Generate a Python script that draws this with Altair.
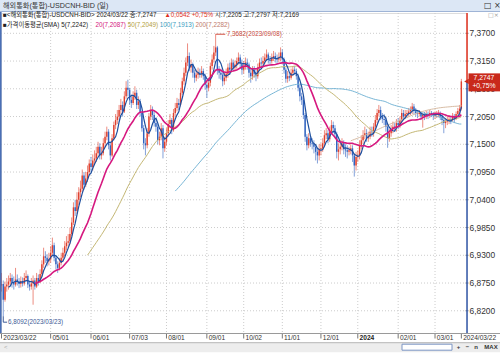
import altair as alt
import pandas as pd

# ---------------- data ----------------
tick_idx = [0, 28, 51, 73, 94, 117, 138, 160, 182, 203, 226, 247, 262]
tick_labels = ["2023/03/22", "05/01", "06/01", "07/03", "08/01", "09/01", "10/02",
               "11/01", "12/01", "2024", "02/01", "03/01", "2024/03/22"]
y_ticks = [7.37, 7.315, 7.26, 7.205, 7.15, 7.095, 7.04, 6.985, 6.93, 6.875, 6.82]

# daily closes, month by month (trading days)
c_23_03 = [6.873, 6.842, 6.868, 6.872, 6.878, 6.885, 6.875, 6.872]
c_23_04 = [6.882, 6.878, 6.873, 6.879, 6.874, 6.885, 6.889, 6.872, 6.868, 6.874,
           6.880, 6.868, 6.885, 6.878, 6.893, 6.912, 6.928, 6.925, 6.918, 6.922]
c_23_05 = [6.935, 6.950, 6.925, 6.912, 6.905, 6.915, 6.925, 6.935, 6.948, 6.955, 6.958, 6.972,
           6.995, 7.025, 7.018, 7.040, 7.055, 7.062, 7.088, 7.070, 7.082, 7.095, 7.112]
c_23_06 = [7.105, 7.118, 7.122, 7.132, 7.145, 7.128, 7.132, 7.152, 7.165, 7.175, 7.148,
           7.128, 7.162, 7.188, 7.198, 7.205, 7.218, 7.228, 7.215, 7.245, 7.262, 7.258]
c_23_07 = [7.238, 7.232, 7.245, 7.252, 7.228, 7.235, 7.212, 7.182, 7.152, 7.148, 7.172,
           7.205, 7.218, 7.208, 7.192, 7.185, 7.158, 7.165, 7.182, 7.142, 7.155]
c_23_08 = [7.172, 7.190, 7.198, 7.178, 7.212, 7.222, 7.232, 7.228, 7.252, 7.275, 7.292, 7.312,
           7.325, 7.302, 7.308, 7.292, 7.282, 7.288, 7.292, 7.290, 7.295, 7.285, 7.268]
c_23_09 = [7.262, 7.272, 7.305, 7.318, 7.332, 7.342, 7.298, 7.292, 7.288, 7.275, 7.282,
           7.290, 7.302, 7.298, 7.312, 7.302, 7.308, 7.315, 7.322, 7.310, 7.298]
c_23_10 = [7.305, 7.312, 7.308, 7.292, 7.285, 7.298, 7.290, 7.285, 7.302, 7.312, 7.310,
           7.315, 7.322, 7.328, 7.318, 7.315, 7.322, 7.325, 7.320, 7.318, 7.322, 7.332]
c_23_11 = [7.318, 7.298, 7.280, 7.285, 7.282, 7.292, 7.298, 7.295, 7.285, 7.262, 7.245,
           7.238, 7.208, 7.165, 7.148, 7.162, 7.152, 7.150, 7.145, 7.135, 7.128, 7.140]
c_23_12 = [7.142, 7.152, 7.168, 7.172, 7.160, 7.175, 7.188, 7.182, 7.170, 7.135, 7.140,
           7.145, 7.152, 7.140, 7.138, 7.135, 7.138, 7.142, 7.128, 7.108, 7.125]
c_24_01 = [7.128, 7.148, 7.158, 7.168, 7.172, 7.162, 7.165, 7.175, 7.172, 7.185, 7.198, 7.212,
           7.218, 7.205, 7.200, 7.198, 7.185, 7.162, 7.172, 7.180, 7.185, 7.182, 7.192]
c_24_02 = [7.188, 7.198, 7.212, 7.205, 7.210, 7.212, 7.215, 7.218, 7.225, 7.218, 7.212,
           7.210, 7.212, 7.205, 7.208, 7.206, 7.210, 7.208, 7.212, 7.210, 7.206]
c_24_03 = [7.208, 7.210, 7.212, 7.205, 7.198, 7.192, 7.195, 7.198, 7.200, 7.198, 7.205,
           7.200, 7.210, 7.216, 7.2205, 7.2747]

h_23_03 = [6.895, 6.880, 6.878, 6.885, 6.890, 6.895, 6.892, 6.888]
h_23_04 = [6.905, 6.892, 6.885, 6.888, 6.886, 6.895, 6.900, 6.892, 6.880, 6.885,
           6.890, 6.885, 6.895, 6.892, 6.902, 6.920, 6.945, 6.938, 6.932, 6.935]
h_23_05 = [6.948, 6.965, 6.955, 6.930, 6.918, 6.925, 6.935, 6.945, 6.958, 6.968, 6.972, 6.985,
           7.005, 7.035, 7.040, 7.055, 7.065, 7.078, 7.100, 7.095, 7.095, 7.108, 7.120]
h_23_06 = [7.125, 7.130, 7.138, 7.145, 7.155, 7.152, 7.145, 7.162, 7.175, 7.185, 7.180,
           7.155, 7.170, 7.195, 7.210, 7.218, 7.228, 7.240, 7.235, 7.255, 7.275, 7.278]
h_23_07 = [7.262, 7.248, 7.255, 7.265, 7.258, 7.245, 7.240, 7.215, 7.188, 7.162, 7.182,
           7.212, 7.228, 7.225, 7.215, 7.200, 7.190, 7.175, 7.192, 7.188, 7.165]
h_23_08 = [7.182, 7.198, 7.210, 7.202, 7.220, 7.232, 7.242, 7.240, 7.262, 7.282, 7.302, 7.322,
           7.350, 7.332, 7.318, 7.312, 7.298, 7.298, 7.302, 7.300, 7.305, 7.300, 7.290]
h_23_09 = [7.275, 7.282, 7.312, 7.328, 7.345, 7.3682, 7.345, 7.305, 7.300, 7.295, 7.292,
           7.300, 7.310, 7.312, 7.320, 7.318, 7.316, 7.322, 7.332, 7.328, 7.318]
h_23_10 = [7.315, 7.322, 7.320, 7.312, 7.298, 7.305, 7.305, 7.298, 7.310, 7.320, 7.322,
           7.325, 7.330, 7.338, 7.332, 7.325, 7.330, 7.335, 7.332, 7.328, 7.332, 7.342]
h_23_11 = [7.338, 7.322, 7.302, 7.295, 7.292, 7.300, 7.305, 7.305, 7.300, 7.290, 7.268,
           7.252, 7.242, 7.212, 7.170, 7.172, 7.168, 7.162, 7.158, 7.150, 7.142, 7.150]
h_23_12 = [7.152, 7.162, 7.178, 7.182, 7.178, 7.185, 7.198, 7.195, 7.188, 7.175, 7.152,
           7.158, 7.162, 7.158, 7.150, 7.148, 7.145, 7.150, 7.148, 7.132, 7.135]
h_24_01 = [7.138, 7.158, 7.168, 7.178, 7.185, 7.180, 7.175, 7.185, 7.185, 7.192, 7.208, 7.220,
           7.228, 7.225, 7.212, 7.210, 7.205, 7.190, 7.180, 7.188, 7.195, 7.192, 7.200]
h_24_02 = [7.202, 7.205, 7.220, 7.218, 7.218, 7.218, 7.222, 7.225, 7.232, 7.230, 7.222,
           7.218, 7.218, 7.215, 7.212, 7.214, 7.216, 7.215, 7.218, 7.216, 7.214]
h_24_03 = [7.215, 7.216, 7.218, 7.215, 7.208, 7.202, 7.202, 7.205, 7.208, 7.206, 7.212,
           7.210, 7.215, 7.222, 7.228, 7.2797]

l_23_03 = [6.858, 6.8092, 6.838, 6.858, 6.862, 6.870, 6.866, 6.862]
l_23_04 = [6.868, 6.870, 6.865, 6.866, 6.868, 6.870, 6.878, 6.865, 6.860, 6.862,
           6.832, 6.862, 6.865, 6.870, 6.875, 6.888, 6.905, 6.915, 6.908, 6.910]
l_23_05 = [6.915, 6.928, 6.918, 6.902, 6.895, 6.900, 6.910, 6.918, 6.928, 6.940, 6.945, 6.952,
           6.968, 6.990, 7.008, 7.012, 7.030, 7.045, 7.055, 7.060, 7.065, 7.075, 7.088]
l_23_06 = [7.095, 7.098, 7.110, 7.115, 7.125, 7.120, 7.120, 7.128, 7.145, 7.158, 7.140,
           7.118, 7.125, 7.158, 7.180, 7.190, 7.198, 7.210, 7.205, 7.212, 7.240, 7.245]
l_23_07 = [7.228, 7.222, 7.228, 7.238, 7.220, 7.220, 7.205, 7.175, 7.140, 7.128, 7.142,
           7.165, 7.198, 7.198, 7.185, 7.175, 7.150, 7.148, 7.158, 7.122, 7.135]
l_23_08 = [7.148, 7.165, 7.182, 7.170, 7.175, 7.205, 7.215, 7.218, 7.225, 7.248, 7.268, 7.285,
           7.305, 7.295, 7.292, 7.282, 7.272, 7.275, 7.280, 7.282, 7.282, 7.278, 7.258]
l_23_09 = [7.242, 7.255, 7.265, 7.298, 7.312, 7.325, 7.288, 7.280, 7.278, 7.265, 7.268,
           7.275, 7.282, 7.288, 7.292, 7.295, 7.295, 7.300, 7.308, 7.302, 7.288]
l_23_10 = [7.290, 7.298, 7.298, 7.282, 7.272, 7.278, 7.282, 7.275, 7.280, 7.295, 7.302,
           7.305, 7.308, 7.315, 7.310, 7.308, 7.310, 7.315, 7.312, 7.310, 7.312, 7.315]
l_23_11 = [7.310, 7.290, 7.272, 7.272, 7.275, 7.278, 7.285, 7.288, 7.278, 7.255, 7.235,
           7.228, 7.200, 7.155, 7.138, 7.142, 7.145, 7.140, 7.132, 7.118, 7.112, 7.118]
l_23_12 = [7.128, 7.135, 7.145, 7.160, 7.152, 7.155, 7.170, 7.172, 7.162, 7.122, 7.118,
           7.130, 7.138, 7.130, 7.125, 7.122, 7.128, 7.130, 7.115, 7.086, 7.098]
l_24_01 = [7.115, 7.120, 7.140, 7.150, 7.160, 7.155, 7.155, 7.160, 7.165, 7.165, 7.180, 7.192,
           7.205, 7.198, 7.192, 7.188, 7.175, 7.143, 7.155, 7.165, 7.172, 7.175, 7.175]
l_24_02 = [7.180, 7.182, 7.192, 7.198, 7.200, 7.202, 7.205, 7.208, 7.210, 7.210, 7.205,
           7.202, 7.205, 7.198, 7.183, 7.198, 7.200, 7.200, 7.202, 7.204, 7.198]
l_24_03 = [7.200, 7.202, 7.204, 7.198, 7.188, 7.172, 7.182, 7.188, 7.190, 7.190, 7.195,
           7.192, 7.198, 7.205, 7.210, 7.2169]

closes = (c_23_03 + c_23_04 + c_23_05 + c_23_06 + c_23_07 + c_23_08 + c_23_09 +
          c_23_10 + c_23_11 + c_23_12 + c_24_01 + c_24_02 + c_24_03)
highs = (h_23_03 + h_23_04 + h_23_05 + h_23_06 + h_23_07 + h_23_08 + h_23_09 +
         h_23_10 + h_23_11 + h_23_12 + h_24_01 + h_24_02 + h_24_03)
lows = (l_23_03 + l_23_04 + l_23_05 + l_23_06 + l_23_07 + l_23_08 + l_23_09 +
        l_23_10 + l_23_11 + l_23_12 + l_24_01 + l_24_02 + l_24_03)
first_open = 6.870
# in this feed each day's open is the previous close (시:7,2205 = prior close 7,2205)
opens = [first_open] + closes[:-1]
assert len(closes) == len(highs) == len(lows) == 263

hi_i, hi_v = 122, 7.3682
lo_i, lo_v = 1, 6.8092
last_v = 7.2747

df = pd.DataFrame({"i": list(range(len(closes))), "o": opens, "h": highs, "l": lows, "c": closes})

# ---------------- styling ----------------
RED, BLUE = "#e0402e", "#2f62c0"
AXF = "Liberation Sans"
UIF = "Liberation Sans, Noto Sans CJK KR"
DARK = "#222222"
TOP_V, BOT_V = 7.41024, 6.77595
PH = 320  # plot height

xs = alt.Scale(domain=[-0.285, 265.22], nice=False, zero=False)
ys = alt.Scale(domain=[BOT_V, TOP_V], nice=False, zero=False)
X = lambda f="i": alt.X(f"{f}:Q", scale=xs, axis=None)
Y = lambda f: alt.Y(f"{f}:Q", scale=ys, axis=None)

one = pd.DataFrame({"k": [0]})

def label(text, x, y, color, size, font=UIF, weight="normal", align="left"):
    return alt.Chart(one).mark_text(text=text, align=align, baseline="middle", fontSize=size,
                                    font=font, color=color, fontWeight=weight).encode(
        x=alt.value(x), y=alt.value(y))

W = {",": .278, ".": .278, ":": .278, "/": .278, "(": .333, ")": .333, " ": .278, "<": .584,
     ">": .584, "-": .333, "+": .584, "%": .889, "U": .722, "S": .667, "D": .722, "C": .722,
     "N": .722, "H": .722, "B": .667, "I": .278, "M": .833, "A": .667}
def tw(s, fs):
    return fs * sum(.556 if ch.isdigit() else W.get(ch, 1.0) for ch in s)

def seq(segments, x0, y, fs):
    out, x = [], x0
    for text, color in segments:
        out.append(label(text, x, y, color, fs))
        x += tw(text, fs) + tw(" ", fs)
    return out

# ---------------- axes drawn from the tick lists through the scales ----------------
xt = alt.Chart(pd.DataFrame({"i": tick_idx, "lab": tick_labels}))
vgrid = xt.transform_filter("datum.i > 0 && datum.i < 262").mark_rule(
    color="#cccccc", strokeDash=[1, 2], strokeWidth=1).encode(x=X(), y=alt.value(0), y2=alt.value(PH))
xticks = xt.mark_rule(color="#777777", strokeWidth=1).encode(
    x=X(), y=alt.value(PH + 0.5), y2=alt.value(PH + 5.5))
xlabs = xt.transform_filter("datum.lab != '2024'").mark_text(
    align="left", baseline="middle", dx=1.8, fontSize=6.6, font=AXF, color="#333333").encode(
    x=X(), y=alt.value(PH + 4.5), text="lab:N")
xlab_bold = xt.transform_filter("datum.lab == '2024'").mark_text(
    align="left", baseline="middle", dx=1.8, fontSize=6.6, font=AXF, color="#222222",
    fontWeight="bold").encode(x=X(), y=alt.value(PH + 4.5), text="lab:N")

yt = alt.Chart(pd.DataFrame({"v": y_ticks})).transform_calculate(
    lab="replace(format(datum.v, '.4f'), '.', ',')")
hgrid = yt.mark_rule(color="#cccccc", strokeDash=[1, 2], strokeWidth=1).encode(
    x=alt.value(0), x2=alt.value(466), y=Y("v"))
yticks = yt.mark_rule(color="#888888", strokeWidth=1).encode(
    x=alt.value(464.5), x2=alt.value(467.5), y=Y("v"))
ylabs = yt.mark_text(align="left", baseline="middle", fontSize=8.4, font=AXF,
                     color="#333333").encode(x=alt.value(468.5), y=Y("v"), text="lab:N")

# ---------------- candles and moving averages ----------------
up = alt.datum.c >= alt.datum.o
candle_color = alt.condition(up, alt.value(RED), alt.value(BLUE))

base = alt.Chart(df)
wicks = base.mark_rule(strokeWidth=0.8, opacity=0.75).encode(
    x=X(), y=Y("l"), y2="h:Q", color=candle_color)
bodies = base.mark_rule(strokeWidth=1.4).encode(x=X(), y=Y("o"), y2="c:Q", color=candle_color)

def sma(n, color, w):
    return base.transform_window(
        ma="mean(c)", cnt="count()", frame=[-(n - 1), 0], sort=[alt.SortField("i")]
    ).transform_filter(f"datum.cnt >= {n}").mark_line(color=color, strokeWidth=w).encode(
        x=X(), y=Y("ma"))

# high / low markers
hi_df = pd.DataFrame({"i": [hi_i], "i2": [hi_i + 5.5], "v": [hi_v]})
hi_line = alt.Chart(hi_df).mark_rule(color="#d04a3a", strokeWidth=1).encode(x=X(), x2="i2:Q", y=Y("v"))
hi_txt = alt.Chart(hi_df).mark_text(text="7,3682(2023/09/08)", align="left", baseline="middle",
                                    dx=1.5, fontSize=6.3, font=AXF, color="#c8483a").encode(
    x=X("i2"), y=Y("v"))
lo_df = pd.DataFrame({"i": [lo_i], "i2": [lo_i + 2.2], "v": [lo_v], "v2": [lo_v - 0.0118]})
lo_v_line = alt.Chart(lo_df).mark_rule(color="#3c5a96", strokeWidth=1).encode(x=X(), y=Y("v"), y2="v2:Q")
lo_h_line = alt.Chart(lo_df).mark_rule(color="#3c5a96", strokeWidth=1).encode(x=X(), x2="i2:Q", y=Y("v2"))
lo_txt = alt.Chart(lo_df).mark_text(text="6,8092(2023/03/23)", align="left", baseline="middle",
                                    dx=1, fontSize=6.3, font=AXF, color="#3c5a96").encode(
    x=X("i2"), y=Y("v2"))

# right border (red above the last price, blue below) and price tag
border_red = alt.Chart(one).mark_rule(color="#e0301e", strokeWidth=1.5).encode(
    x=alt.value(466), y=alt.datum(TOP_V, scale=ys, axis=None), y2=alt.datum(last_v))
border_blue = alt.Chart(one).mark_rule(color="#3358a8", strokeWidth=1.5).encode(
    x=alt.value(466), y=alt.datum(last_v, scale=ys, axis=None), y2=alt.datum(BOT_V))
tag_box = alt.Chart(one).mark_rect(color="#c9291b", yOffset=-8, y2Offset=10).encode(
    x=alt.value(467.5), x2=alt.value(499), y=alt.datum(last_v, scale=ys, axis=None),
    y2=alt.datum(last_v))
tag_arrow = alt.Chart(one).mark_point(shape="triangle-left", filled=True, size=28,
                                      color="#c9291b", opacity=1).encode(
    x=alt.value(465.5), y=alt.datum(last_v, scale=ys, axis=None))
tag_t1 = alt.Chart(one).mark_text(text="7,2747", align="center", baseline="middle", dy=-3,
                                  fontSize=6.8, font=AXF, color="white").encode(
    x=alt.value(483), y=alt.datum(last_v, scale=ys, axis=None))
tag_t2 = alt.Chart(one).mark_text(text="+0,75%", align="center", baseline="middle", dy=5,
                                  fontSize=6.8, font=AXF, color="white").encode(
    x=alt.value(483), y=alt.datum(last_v, scale=ys, axis=None))

left_border = alt.Chart(one).mark_rule(color="#4a6fb5", strokeWidth=1.6).encode(
    x=alt.value(-0.2), y=alt.value(-1), y2=alt.value(PH + 0.5))
x_base = alt.Chart(one).mark_rule(color="#9a9a9a", strokeWidth=1).encode(
    x=alt.value(-1), x2=alt.value(499), y=alt.value(PH + 0.5))

# window chrome: title bar and scroll bar
title_bar = alt.Chart(one).mark_rect(color="#dce7f5").encode(
    x=alt.value(-1), x2=alt.value(499), y=alt.value(-13), y2=alt.value(-1.5))
title_line = alt.Chart(one).mark_rule(color="#9fb4d6", strokeWidth=1).encode(
    x=alt.value(-1), x2=alt.value(499), y=alt.value(-1.5))
title_txt = label("해외통화(통합)-USDCNH-BID (일)", 2, -7, "#333333", 7.2)
title_icons = label("□ ×", 483, -7, "#333333", 8, font="DejaVu Sans")
row_icons = label("□×", 487, 2, "#9a9a9a", 6, font="DejaVu Sans")

SB = PH + 9.7
scroll_bg = alt.Chart(one).mark_rect(color="#ededed").encode(
    x=alt.value(-1), x2=alt.value(499), y=alt.value(SB), y2=alt.value(SB + 9.5))
scroll_line = alt.Chart(one).mark_rule(color="#b5b5b5").encode(
    x=alt.value(-1), x2=alt.value(499), y=alt.value(SB))
scroll_knob = alt.Chart(one).mark_rect(fill="white", stroke="#7c95c4", strokeWidth=1).encode(
    x=alt.value(401), x2=alt.value(451), y=alt.value(SB + 1.5), y2=alt.value(SB + 7.5))
scroll_left = label("<", 3, SB + 4.5, "#aaaaaa", 6, font=AXF)
btns = [label(t, x, SB + 4.5, "#333333", 6, font=AXF, weight="bold", align="center")
        for t, x in [("+", 457.5), ("−", 466.5), ("n", 475), ("MAX", 490)]]

leg1 = seq([("■<해외통화(통합)-USDCNH-BID> 2024/03/22 종:7,2747", DARK),
            ("▲0,0542 +0,75%", "#e0301e"),
            ("시:7,2205 고:7,2797 저:7,2169", DARK)], 2, 2, 6.3)
leg2 = seq([("■가격이동평균(SMA) 5(7,2242)", DARK),
            ("20(7,2087)", "#d4157c"),
            ("50(7,2049)", "#b3a03c"),
            ("100(7,1913)", "#3a9cc0"),
            ("200(7,2282)", "#c07a6c")], 2, 12, 6.3)

layers = [scroll_bg, scroll_line, scroll_knob, scroll_left, *btns,
          vgrid, hgrid, xticks, xlabs, xlab_bold, yticks, ylabs,
          wicks, bodies,
          sma(100, "#78b6d6", 1.0), sma(50, "#c4b774", 1.0), sma(200, "#d8bca4", 1.0),
          sma(5, "#1d4f9e", 1.2), sma(20, "#d6187f", 1.6),
          hi_line, hi_txt, lo_v_line, lo_h_line, lo_txt,
          border_red, border_blue, tag_box, tag_arrow, tag_t1, tag_t2,
          left_border, x_base, title_bar, title_line, title_txt, title_icons, row_icons,
          *leg1, *leg2]

chart = alt.layer(*layers).properties(
    width=466, height=PH,
    autosize=alt.AutoSizeParams(type="none"),
    padding={"left": 1, "top": 13, "right": 33, "bottom": 21},
).configure_view(stroke=None).configure(background="white")

chart.save("out.html", embed_options={"renderer": "svg", "actions": False})
